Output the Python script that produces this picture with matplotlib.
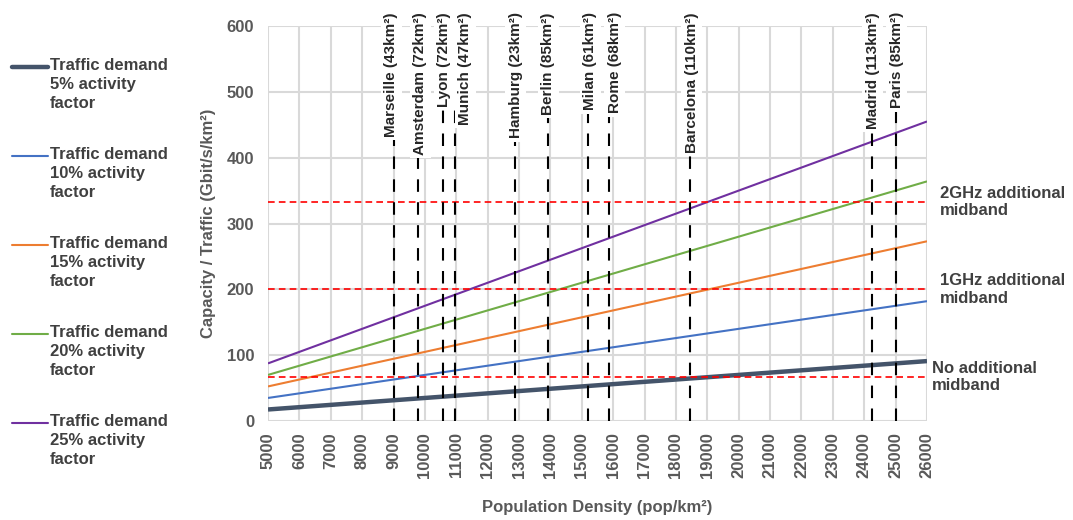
import matplotlib
matplotlib.use('Agg')

import matplotlib.pyplot as plt
from matplotlib.lines import Line2D

plt.rcParams['font.family'] = ['Liberation Sans', 'DejaVu Sans']
plt.rcParams['font.weight'] = 'bold'

# population density end points (pop/km2)
density = [5000, 26000]

# traffic demand (Gbit/s/km2) per activity factor
traffic_5 = [17.5, 91]
traffic_10 = [35, 182]
traffic_15 = [52.5, 273]
traffic_20 = [70, 364]
traffic_25 = [87.5, 455]

series_labels = ['Traffic demand\n5% activity\nfactor',
                 'Traffic demand\n10% activity\nfactor',
                 'Traffic demand\n15% activity\nfactor',
                 'Traffic demand\n20% activity\nfactor',
                 'Traffic demand\n25% activity\nfactor']

# capacity thresholds
capacity_levels = [67, 200, 333]
capacity_labels = ['No additional\nmidband', '1GHz additional\nmidband', '2GHz additional\nmidband']

# cities
city_names = ['Marseille (43km²)', 'Amsterdam (72km²)', 'Lyon (72km²)', 'Munich (47km²)',
              'Hamburg (23km²)', 'Berlin (85km²)', 'Milan (61km²)', 'Rome (68km²)',
              'Barcelona (110km²)', 'Madrid (113km²)', 'Paris (85km²)']
city_density = [9030, 9790, 10590, 10960, 12870, 13930, 15200, 15860, 18440, 24240, 25000]
# сдвиг подписи относительно линии, px
label_shift = [-3, 2, 1, 10, 1, 0, 2, 6, 2, 1, 1]

x_ticks = list(range(5000, 26001, 1000))
y_ticks = list(range(0, 601, 100))

colors = ['#44546a', '#4472c4', '#ed7d31', '#70ad47', '#7030a0']
widths = [3.2, 1.5, 1.5, 1.5, 1.5]
text_gray = '#595959'
legend_gray = '#404040'

fig = plt.figure(figsize=(10.73, 5.2), dpi=100)
ax = fig.add_axes([268 / 1073, 1 - 421 / 520, (927 - 268) / 1073, (421 - 26) / 520])

# Линии трафика
all_traffic = [traffic_5, traffic_10, traffic_15, traffic_20, traffic_25]
for vals, c, lw in zip(all_traffic, colors, widths):
    ax.plot(density, vals, color=c, linewidth=lw, solid_capstyle='butt', zorder=3)

# Пороги ёмкости
for lvl in capacity_levels:
    ax.axhline(lvl, color='#ff0000', linewidth=1.2, linestyle=(0, (4, 2.5)), zorder=4)

offsets = [5, 13, 13]
for lvl, lab, off in zip(capacity_levels, capacity_labels, offsets):
    ax.annotate(lab, xy=(x_ticks[-1], lvl), xytext=(off * 0.72, 0), textcoords='offset points',
                ha='left', va='center', fontsize=12, color=legend_gray, annotation_clip=False,
                linespacing=1.2)

# Города
for name, xd, sh in zip(city_names, city_density, label_shift):
    ax.plot([xd, xd], [0, 600], color='black', linewidth=1.5, linestyle=(0, (6, 5)), zorder=5)
    ax.annotate(name, xy=(xd, 1.035), xycoords=ax.get_xaxis_transform(),
                xytext=(sh * 0.72, 0), textcoords='offset points', rotation=90,
                ha='center', va='top', fontsize=11, color='#262626', zorder=6,
                annotation_clip=False,
                bbox=dict(facecolor='white', edgecolor='none', pad=2.5))

ax.set_xlim(x_ticks[0], x_ticks[-1])
ax.set_ylim(y_ticks[0], y_ticks[-1])
ax.set_xticks(x_ticks)
ax.set_yticks(y_ticks)
ax.set_xticklabels([str(t) for t in x_ticks], rotation=90)
ax.tick_params(axis='both', length=0, labelsize=12, labelcolor=text_gray)
ax.tick_params(axis='x', pad=8)
ax.tick_params(axis='y', pad=10)
ax.grid(True, color='#d9d9d9', linewidth=1.5, zorder=0)
ax.set_axisbelow(True)
for s in ax.spines.values():
    s.set_visible(False)

ax.set_ylabel('Capacity / Traffic (Gbit/s/km²)', fontsize=12, color=text_gray,
              fontweight='bold', labelpad=8)
ax.set_xlabel('Population Density (pop/km²)', fontsize=12, color=text_gray,
              fontweight='bold', labelpad=16)

# Легенда слева
for i, (lab, c, lw) in enumerate(zip(series_labels, colors, widths)):
    yc = 1 - (67 + 89 * i) / 520
    fig.add_artist(Line2D([12 / 1073, 48 / 1073], [yc, yc], color=c, linewidth=lw,
                          solid_capstyle='round', transform=fig.transFigure))
    fig.text(50 / 1073, yc + 9 / 520, lab, ha='left', va='top', fontsize=12,
             color=legend_gray, linespacing=1.34)

fig.savefig('out.png', dpi=100)
